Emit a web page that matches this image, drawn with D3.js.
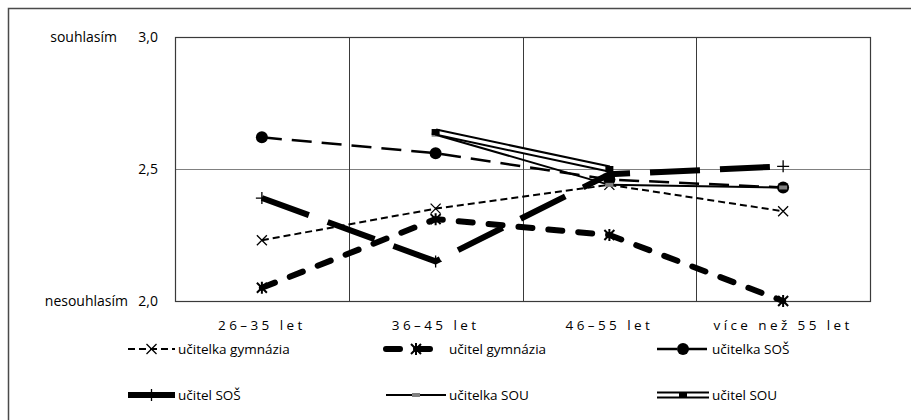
<!DOCTYPE html>
<html>
<head>
<meta charset="utf-8">
<script src="https://cdn.jsdelivr.net/npm/d3@7"></script>
<style>
  html, body { margin: 0; padding: 0; background: #fff; }
  svg { display: block; }
</style>
</head>
<body>
<svg id="chart" width="911" height="420"></svg>
<script>
// Age groups on the x axis
const categories = ["26–35 let", "36–45 let", "46–55 let", "více než 55 let"];

// Mean agreement per group (2 = nesouhlasím, 3 = souhlasím); null = no data
const ucitelkaGymnazia = [2.23, 2.35, 2.44, 2.34];
const ucitelGymnazia   = [2.05, 2.31, 2.25, 2.00];
const ucitelkaSOS      = [2.62, 2.56, 2.46, 2.43];
const ucitelSOS        = [2.39, 2.15, 2.48, 2.51];
const ucitelkaSOU      = [null, 2.63, 2.44, 2.43];
const ucitelSOU        = [null, 2.64, 2.50, null];

const seriesNames = ["učitelka gymnázia", "učitel gymnázia", "učitelka SOŠ",
                     "učitel SOŠ", "učitelka SOU", "učitel SOU"];

const yTicks = [2.0, 2.5, 3.0];
const yEndLabels = ["nesouhlasím", "souhlasím"];

const FONT = "'Open Sans', 'Liberation Sans', sans-serif";

// Line styles for each series
const styles = [
  { width: 2,   dash: "7,4",   cap: "butt",  marker: "x" },
  { width: 6,   dash: "14,16", cap: "round", marker: "asterisk" },
  { width: 2.5, dash: "20,10", cap: "butt",  marker: "circle" },
  { width: 6,   dash: "50,20", cap: "butt",  marker: "plus" },
  { width: 2,   dash: null,    cap: "butt",  marker: "grayrect" },
  { width: 7,   dash: null,    cap: "butt",  marker: "blackrect", double: true }
];

const seriesData = [ucitelkaGymnazia, ucitelGymnazia, ucitelkaSOS,
                    ucitelSOS, ucitelkaSOU, ucitelSOU];

const svg = d3.select("#chart");

const plot = { left: 175, right: 870, top: 37, bottom: 301 };

const x = d3.scaleBand().domain(categories).range([plot.left, plot.right]);
const y = d3.scaleLinear().domain([2, 3]).range([plot.bottom, plot.top]);
const cx = c => x(c) + x.bandwidth() / 2;

// Outer frame (continues past the visible area on right and bottom)
svg.append("rect")
  .attr("x", 8.5).attr("y", 8.5).attr("width", 1000).attr("height", 1000)
  .attr("fill", "none").attr("stroke", "#4a4a4a").attr("stroke-width", 1.5);

// Horizontal gridlines
svg.append("g").selectAll("line").data(yTicks).join("line")
  .attr("x1", plot.left).attr("x2", plot.right)
  .attr("y1", d => Math.round(y(d)) + 0.5).attr("y2", d => Math.round(y(d)) + 0.5)
  .attr("stroke", "#808080").attr("stroke-width", 1.2);

// Vertical gridlines at category boundaries
svg.append("g").selectAll("line").data(categories.slice(1)).join("line")
  .attr("x1", d => Math.round(x(d)) + 0.5).attr("x2", d => Math.round(x(d)) + 0.5)
  .attr("y1", plot.top).attr("y2", plot.bottom)
  .attr("stroke", "#3a3a3a").attr("stroke-width", 1);

// Plot border
svg.append("rect")
  .attr("x", plot.left + 0.5).attr("y", plot.top + 0.5)
  .attr("width", plot.right - plot.left).attr("height", plot.bottom - plot.top)
  .attr("fill", "none").attr("stroke", "#3a3a3a").attr("stroke-width", 1.2);

// Y tick labels
const yAxis = d3.axisLeft(y).tickValues(yTicks)
  .tickFormat(d => d3.format(".1f")(d).replace(".", ","))
  .tickSize(0).tickPadding(0);
const gy = svg.append("g").attr("transform", `translate(${plot.left - 17},0)`).call(yAxis);
gy.select(".domain").remove();
gy.selectAll("text").attr("font-family", FONT).attr("font-size", 14).attr("fill", "#000");

// Verbal ends of the scale
svg.append("text").text(yEndLabels[1])
  .attr("x", 117).attr("y", y(3)).attr("dy", "0.35em").attr("text-anchor", "end")
  .attr("font-family", FONT).attr("font-size", 14);
svg.append("text").text(yEndLabels[0])
  .attr("x", 128).attr("y", y(2)).attr("dy", "0.35em").attr("text-anchor", "end")
  .attr("font-family", FONT).attr("font-size", 14);

// X axis labels
const xAxis = d3.axisBottom(x).tickSize(0).tickPadding(0);
const gx = svg.append("g").attr("transform", `translate(0,${plot.bottom + 19})`).call(xAxis);
gx.select(".domain").remove();
gx.selectAll("text").attr("font-family", FONT).attr("font-size", 13.5)
  .attr("letter-spacing", "3.4px").attr("fill", "#000");

// Marker drawing
function drawMarker(g, type, px, py) {
  const m = g.append("g").attr("transform", `translate(${px},${py})`);
  if (type === "x") {
    m.append("path").attr("d", "M-5,-5L5,5M-5,5L5,-5")
      .attr("stroke", "#000").attr("stroke-width", 1.3).attr("fill", "none");
  } else if (type === "asterisk") {
    m.append("path").attr("d", "M-5,-5L5,5M-5,5L5,-5M0,-6L0,6")
      .attr("stroke", "#000").attr("stroke-width", 2).attr("fill", "none");
  } else if (type === "circle") {
    m.append("circle").attr("r", 6).attr("fill", "#000");
  } else if (type === "plus") {
    m.append("path").attr("d", "M-6,0L6,0M0,-6L0,6")
      .attr("stroke", "#000").attr("stroke-width", 1.3).attr("fill", "none");
  } else if (type === "grayrect") {
    m.append("rect").attr("x", -4).attr("y", -2).attr("width", 8).attr("height", 4)
      .attr("fill", "#808080");
  } else if (type === "blackrect") {
    m.append("rect").attr("x", -4).attr("y", -3).attr("width", 8).attr("height", 6)
      .attr("fill", "#000");
  }
}

function strokePath(g, d, st) {
  const p = g.append("path").attr("d", d).attr("fill", "none")
    .attr("stroke", "#000").attr("stroke-width", st.width)
    .attr("stroke-linecap", st.cap).attr("stroke-linejoin", "round");
  if (st.dash) p.attr("stroke-dasharray", st.dash);
  if (st.double) {
    g.append("path").attr("d", d).attr("fill", "none")
      .attr("stroke", "#fff").attr("stroke-width", st.width - 4)
      .attr("stroke-linejoin", "round");
  }
}

// Series lines and markers
const line = d3.line()
  .defined(d => d.v !== null)
  .x(d => cx(d.c))
  .y(d => y(d.v));

const gSeries = svg.append("g");
seriesData.forEach((vals, i) => {
  const pts = vals.map((v, j) => ({ c: categories[j], v }));
  const g = gSeries.append("g");
  strokePath(g, line(pts), styles[i]);
  pts.filter(d => d.v !== null).forEach(d => drawMarker(g, styles[i].marker, cx(d.c), y(d.v)));
});

// Legend: 3 columns x 2 rows
const legendCols = [128, 386, 657];
const legendRows = [349, 395];
const symLen = [47, 60, 52];
seriesNames.forEach((name, i) => {
  const col = i % 3, row = Math.floor(i / 3);
  const lx = legendCols[col], ly = legendRows[row];
  const len = symLen[col];
  const g = svg.append("g");
  strokePath(g, `M${lx},${ly}L${lx + len},${ly}`, styles[i]);
  drawMarker(g, styles[i].marker, lx + len / 2, ly);
  g.append("text").text(name)
    .attr("x", lx + len + 3).attr("y", ly).attr("dy", "0.35em")
    .attr("font-family", FONT).attr("font-size", 13.5);
});
</script>
</body>
</html>
